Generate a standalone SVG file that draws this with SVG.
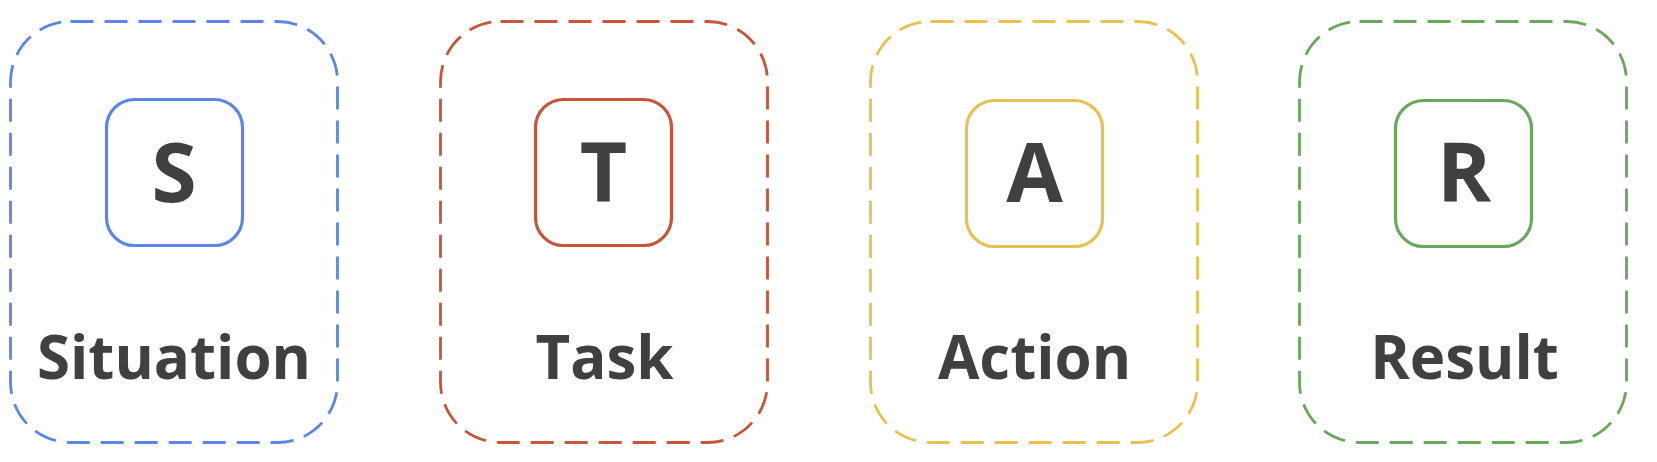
<svg xmlns="http://www.w3.org/2000/svg" width="1657" height="462" viewBox="0 0 1657 462">
  <style>
    .outer { fill: none; stroke-width: 2.8; stroke-dasharray: 23 11; }
    .inner { fill: #ffffff; stroke-width: 3.2; }
    .letter { font-family: "Open Sans", "Liberation Sans", sans-serif; font-weight: 700; font-size: 82px; fill: #404040; text-anchor: middle; }
    .label { font-family: "Open Sans", "Liberation Sans", sans-serif; font-weight: 700; font-size: 60px; fill: #404040; text-anchor: middle; }
    .blue { stroke: #5b86e6; }
    .red { stroke: #c65539; }
    .yellow { stroke: #e9c052; }
    .green { stroke: #6aa65b; }
  </style>
  <rect width="1657" height="462" fill="#ffffff"/>
  <g id="connectors"></g>
  <g id="situation">
    <rect class="outer blue" x="10.5" y="21.5" width="327" height="421" rx="60" ry="60"/>
    <rect class="inner blue" x="106.5" y="99.5" width="136" height="146" rx="28" ry="28"/>
    <text class="letter" x="174" y="202">S</text>
    <text class="label" x="174" y="379">Situation</text>
  </g>
  <g id="task">
    <rect class="outer red" x="440.5" y="21.5" width="327" height="421" rx="60" ry="60"/>
    <rect class="inner red" x="535.5" y="99.5" width="136" height="146" rx="28" ry="28"/>
    <text class="letter" x="603.5" y="202">T</text>
    <text class="label" x="604.5" y="379">Task</text>
  </g>
  <g id="action">
    <rect class="outer yellow" x="870.5" y="21.5" width="327" height="421" rx="60" ry="60"/>
    <rect class="inner yellow" x="966.5" y="100.5" width="136" height="146" rx="28" ry="28"/>
    <text class="letter" x="1034.5" y="202">A</text>
    <text class="label" x="1034.5" y="379">Action</text>
  </g>
  <g id="result">
    <rect class="outer green" x="1299.5" y="21.5" width="327" height="421" rx="60" ry="60"/>
    <rect class="inner green" x="1395.5" y="100.5" width="136" height="146" rx="28" ry="28"/>
    <text class="letter" x="1464" y="202">R</text>
    <text class="label" x="1464.5" y="379">Result</text>
  </g>
</svg>
